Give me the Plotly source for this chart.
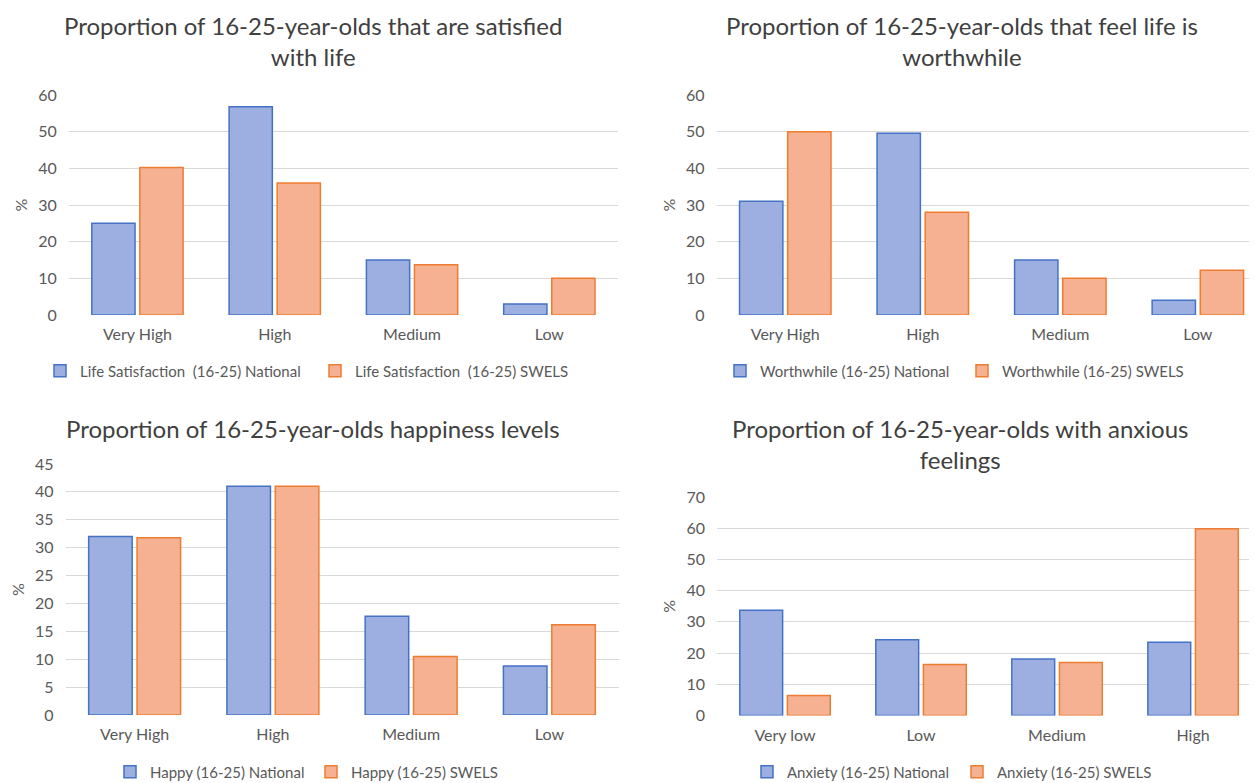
import plotly.graph_objects as go

# page is 1257x783; the html body has an 8px margin, so the figure is offset by 8px
OFF = 8
W, H = 1257 - OFF, 783 - OFF

# ---- Data ----
cats_life = ["Very High", "High", "Medium", "Low"]
life_national = [25, 56.8, 15, 3]
life_swels = [40.2, 36, 13.7, 10]

cats_worth = ["Very High", "High", "Medium", "Low"]
worth_national = [31, 49.6, 15, 4]
worth_swels = [50, 28, 10, 12.2]

cats_happy = ["Very High", "High", "Medium", "Low"]
happy_national = [32, 41, 17.7, 8.8]
happy_swels = [31.8, 41, 10.5, 16.2]

cats_anx = ["Very low", "Low", "Medium", "High"]
anx_national = [33.7, 24.3, 18.1, 23.5]
anx_swels = [6.4, 16.3, 17, 59.8]

titles = [
    "Proportion of 16-25-year-olds that are satisfied<br>with life",
    "Proportion of 16-25-year-olds that feel life is<br>worthwhile",
    "Proportion of 16-25-year-olds happiness levels",
    "Proportion of 16-25-year-olds with anxious<br>feelings",
]
legend_names = [
    ("Life Satisfaction  (16-25) National", "Life Satisfaction  (16-25) SWELS"),
    ("Worthwhile (16-25) National", "Worthwhile (16-25) SWELS"),
    ("Happy (16-25) National", "Happy (16-25) SWELS"),
    ("Anxiety (16-25) National", "Anxiety (16-25) SWELS"),
]

BLUE_FILL, BLUE_LINE = "#9CAFE0", "#4472C4"
ORANGE_FILL, ORANGE_LINE = "#F5B192", "#ED7D31"
TXT = "#595959"
TITLE_C = "#404040"
FONT = "Lato"

def px_x(p):
    return min(1.0, (p - OFF) / W)

def px_y(p):
    return 1 - (p - OFF) / H

panels = [
    dict(cats=cats_life, nat=life_national, sw=life_swels,
         xdom=[px_x(68.8), px_x(618)], xr=[-0.5, 3.5],
         ydom=[px_y(315), px_y(95)], yr=[0, 60], dt=10,
         title_xy=(313, 41), leg=(40, 371), ew=230),
    dict(cats=cats_worth, nat=worth_national, sw=worth_swels,
         xdom=[px_x(716.5), 1.0], xr=[-0.5, 3.43],
         ydom=[px_y(315), px_y(95)], yr=[0, 60], dt=10,
         title_xy=(962, 41), leg=(720, 371), ew=197),
    dict(cats=cats_happy, nat=happy_national, sw=happy_swels,
         xdom=[px_x(65.5), px_x(618.5)], xr=[-0.5, 3.5],
         ydom=[px_y(715), px_y(464)], yr=[0, 45], dt=5,
         title_xy=(313, 428), leg=(110, 772), ew=156),
    dict(cats=cats_anx, nat=anx_national, sw=anx_swels,
         xdom=[px_x(717), 1.0], xr=[-0.5, 3.47],
         ydom=[px_y(715.5), px_y(497)], yr=[0, 70], dt=10,
         title_xy=(960, 444), leg=(747, 772), ew=165),
]

fig = go.Figure()
layout = dict(
    width=W, height=H, margin=dict(l=0, r=0, t=0, b=0, autoexpand=False),
    paper_bgcolor="white", plot_bgcolor="white",
    barmode="group", bargap=0.30, bargroupgap=0.1,
    font=dict(family=FONT, color=TXT, size=14),
    annotations=[],
)

for i, p in enumerate(panels):
    sfx = "" if i == 0 else str(i + 1)
    legname = "legend" if i == 0 else f"legend{i + 1}"
    fig.add_trace(go.Bar(
        x=p["cats"], y=p["nat"], name=legend_names[i][0],
        marker=dict(color=BLUE_FILL, line=dict(color=BLUE_LINE, width=1.5)),
        xaxis="x" + sfx, yaxis="y" + sfx, legend=legname,
    ))
    fig.add_trace(go.Bar(
        x=p["cats"], y=p["sw"], name=legend_names[i][1],
        marker=dict(color=ORANGE_FILL, line=dict(color=ORANGE_LINE, width=1.5)),
        xaxis="x" + sfx, yaxis="y" + sfx, legend=legname,
    ))
    layout["xaxis" + sfx] = dict(
        domain=p["xdom"], range=p["xr"], anchor="y" + sfx,
        showgrid=False, showline=False, zeroline=False, automargin=False,
        tickfont=dict(size=16, color=TXT, family=FONT), ticks="",
        ticklabelstandoff=8, fixedrange=True,
    )
    layout["yaxis" + sfx] = dict(
        domain=p["ydom"], range=p["yr"], anchor="x" + sfx, dtick=p["dt"],
        showgrid=True, gridcolor="#D9D9D9", gridwidth=1, automargin=False,
        zeroline=False, showline=False,
        tickfont=dict(size=16, color=TXT, family=FONT), ticks="",
        ticklabelstandoff=11,
        title=dict(text="%", font=dict(size=16, color=TXT, family=FONT), standoff=6),
        fixedrange=True,
    )
    lx, ly = p["leg"]
    layout[legname] = dict(
        x=px_x(lx), y=px_y(ly), xanchor="left", yanchor="middle",
        orientation="h", font=dict(size=15, color=TXT, family=FONT),
        itemwidth=30, entrywidth=p["ew"], bgcolor="rgba(0,0,0,0)",
        traceorder="normal",
    )
    tx, ty = p["title_xy"]
    layout["annotations"].append(dict(
        text=titles[i], x=px_x(tx), y=px_y(ty), xref="paper", yref="paper",
        xanchor="center", yanchor="middle", showarrow=False,
        font=dict(size=24, color=TITLE_C, family=FONT), align="center",
    ))

fig.update_layout(**layout)
fig.write_html("out.html")
